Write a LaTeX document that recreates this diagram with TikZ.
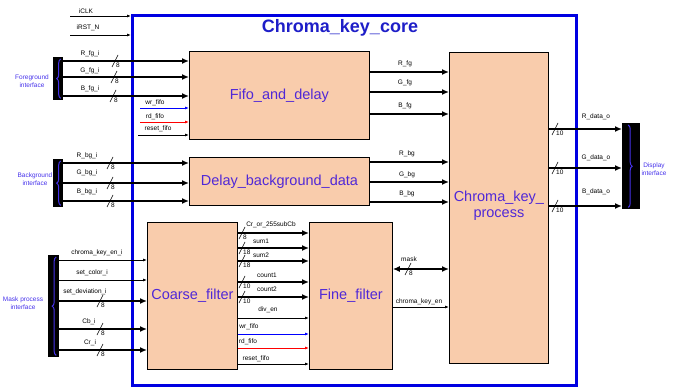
\documentclass[tikz,border=0pt]{standalone}
\usepackage{fontspec}
\setmainfont{Liberation Sans}
\usepackage{tikz}
\usetikzlibrary{arrows.meta,positioning,decorations.pathreplacing}
\definecolor{boxfill}{RGB}{249,204,172}
\definecolor{coreblue}{RGB}{0,0,225}
\definecolor{titleblue}{RGB}{30,30,200}
\definecolor{txtblue}{RGB}{80,40,215}
\definecolor{ifblue}{RGB}{70,50,235}

\begin{document}
\begin{tikzpicture}[
  x=1pt, y=-1pt,
  block/.style={rectangle, draw, fill=boxfill, line width=0.8pt, anchor=north west, align=center, text=txtblue, font=\fontsize{14.5}{16}\selectfont, inner sep=0pt},
  ifbar/.style={rectangle, fill=black, anchor=north west, inner sep=0pt},
  brc/.style={decorate, decoration={brace, amplitude=4pt}, ifblue, line width=1pt},
  iflbl/.style={text=ifblue, font=\fontsize{6.5}{7.5}\selectfont, align=center, inner sep=0pt},
  sig/.style={font=\fontsize{6.5}{7}\selectfont, inner sep=0pt},
  wire/.style={-{Latex[length=4pt,width=3pt]}, line width=0.8pt},
  bus/.style={-{Latex[length=7pt,width=6pt]}, line width=2pt},
  dbus/.style={{Latex[length=7pt,width=6pt]}-{Latex[length=7pt,width=6pt]}, line width=2.5pt},
  tick/.style={line width=0.6pt}
]
\useasboundingbox (0,0) rectangle (676,387);
% Core frame
\node[draw=coreblue, line width=3pt, minimum width=444pt, minimum height=370pt, anchor=north west, inner sep=0pt] (core) at (131,14) {};
\node[font=\bfseries\fontsize{18}{20}\selectfont, text=titleblue] (title) at (340,28) {Chroma\_key\_core};

% Blocks
\node[block, minimum width=180pt, minimum height=88pt] (fifo) at (189,51) {Fifo\_and\_delay};
\node[block, minimum width=180pt, minimum height=48pt] (delay) at (189,157) {Delay\_background\_data};
\node[block, minimum width=90pt, minimum height=147pt] (coarse) at (147,222) {Coarse\_filter};
\node[block, minimum width=83pt, minimum height=147pt] (fine) at (309,222) {Fine\_filter};
\node[block, minimum width=99pt, minimum height=311pt, text depth=8pt] (chroma) at (449,52) {Chroma\_key\_\\process};

% Interface bars
\node[ifbar, minimum width=10pt, minimum height=43pt] (fgbar) at (53,57) {};
\node[ifbar, minimum width=10pt, minimum height=48pt] (bgbar) at (53,159) {};
\node[ifbar, minimum width=11pt, minimum height=102pt] (mkbar) at (48,255) {};
\node[ifbar, minimum width=18pt, minimum height=86pt] (dpbar) at (622,123) {};
\draw[brc] ([xshift=2.5pt,yshift=2pt]fgbar.south) -- ([xshift=2.5pt,yshift=-2pt]fgbar.north);
\draw[brc] ([xshift=2.5pt,yshift=2pt]bgbar.south) -- ([xshift=2.5pt,yshift=-2pt]bgbar.north);
\draw[brc] ([xshift=2.5pt,yshift=2pt]mkbar.south) -- ([xshift=2.5pt,yshift=-2pt]mkbar.north);
\draw[brc] ([xshift=-3pt,yshift=-2pt]dpbar.north) -- ([xshift=-3pt,yshift=2pt]dpbar.south);
\node[iflbl] (fglbl) at (32,81) {Foreground\\interface};
\node[iflbl] (bglbl) at (35,179) {Background\\interface};
\node[iflbl] (mklbl) at (23,303) {Mask process\\interface};
\node[iflbl] (dplbl) at (654,169) {Display\\interface};

% Clock and reset
\coordinate (clk) at (70,16);
\coordinate (rst) at (70,35);
\draw[wire] (clk) -- (clk -| core.west);
\draw[wire] (rst) -- (rst -| core.west);
\node[sig] (clklbl) at (86,11) {iCLK};
\node[sig] (rstlbl) at (88,28) {iRST\_N};

% Foreground inputs
\draw[bus] (fgbar.east |- 0,61) -- (fifo.west |- 0,61);
\draw[bus] (fgbar.east |- 0,77) -- (fifo.west |- 0,77);
\draw[bus] (fgbar.east |- 0,96) -- (fifo.west |- 0,96);
\node[sig] (rfgi) at (90,54) {R\_fg\_i};
\node[sig] (gfgi) at (90,71) {G\_fg\_i};
\node[sig] (bfgi) at (90,89) {B\_fg\_i};
% Fifo controls
\coordinate (wr1) at (140,108);
\coordinate (rd1) at (140,122);
\coordinate (rs1) at (138,135);
\draw[wire, blue] (wr1) -- (wr1 -| fifo.west);
\draw[wire, red] (rd1) -- (rd1 -| fifo.west);
\draw[wire] (rs1) -- (rs1 -| fifo.west);
\node[sig] (wrlbl1) at (155,103) {wr\_fifo};
\node[sig] (rdlbl1) at (155,117) {rd\_fifo};
\node[sig] (rslbl1) at (158,129) {reset\_fifo};

% Background inputs
\draw[bus] (bgbar.east |- 0,163) -- (delay.west |- 0,163);
\draw[bus] (bgbar.east |- 0,183) -- (delay.west |- 0,183);
\draw[bus] (bgbar.east |- 0,201) -- (delay.west |- 0,201);
\node[sig] (rbgi) at (87,156) {R\_bg\_i};
\node[sig] (gbgi) at (87,173) {G\_bg\_i};
\node[sig] (bbgi) at (87,192) {B\_bg\_i};

% Mask process inputs
\draw[wire] (mkbar.east |- 0,260) -- (coarse.west |- 0,260);
\draw[wire] (mkbar.east |- 0,280) -- (coarse.west |- 0,280);
\draw[bus] (mkbar.east |- 0,301) -- (coarse.west |- 0,301);
\draw[bus] (mkbar.east |- 0,329) -- (coarse.west |- 0,329);
\draw[bus] (mkbar.east |- 0,350) -- (coarse.west |- 0,350);
\node[sig] (keyeni) at (97,253) {chroma\_key\_en\_i};
\node[sig] (colori) at (92,273) {set\_color\_i};
\node[sig] (devi) at (85,292) {set\_deviation\_i};
\node[sig] (cbi) at (89,322) {Cb\_i};
\node[sig] (cri) at (90,343) {Cr\_i};

% Coarse to fine
\draw[bus] (coarse.east |- 0,233) -- (fine.west |- 0,233);
\draw[bus] (coarse.east |- 0,248) -- (fine.west |- 0,248);
\draw[bus] (coarse.east |- 0,261) -- (fine.west |- 0,261);
\draw[bus] (coarse.east |- 0,282) -- (fine.west |- 0,282);
\draw[bus] (coarse.east |- 0,297) -- (fine.west |- 0,297);
\draw[wire] (coarse.east |- 0,318) -- (fine.west |- 0,318);
\draw[wire, blue] (coarse.east |- 0,334) -- (fine.west |- 0,334);
\draw[wire, red] (coarse.east |- 0,348) -- (fine.west |- 0,348);
\draw[wire] (coarse.east |- 0,364) -- (fine.west |- 0,364);
\node[sig] (crcb) at (271,225) {Cr\_or\_255subCb};
\node[sig] (sum1) at (261,241) {sum1};
\node[sig] (sum2) at (261,255) {sum2};
\node[sig] (cnt1) at (267,275) {count1};
\node[sig] (cnt2) at (267,289) {count2};
\node[sig] (diven) at (268,310) {div\_en};
\node[sig] (wrlbl2) at (249,327) {wr\_fifo};
\node[sig] (rdlbl2) at (248,342) {rd\_fifo};
\node[sig] (rslbl2) at (256,359) {reset\_fifo};

% Into chroma_key_process
\draw[bus] (fifo.east |- 0,72) -- (chroma.west |- 0,72);
\draw[bus] (fifo.east |- 0,92) -- (chroma.west |- 0,92);
\draw[bus] (fifo.east |- 0,114) -- (chroma.west |- 0,114);
\draw[bus] (delay.east |- 0,162) -- (chroma.west |- 0,162);
\draw[bus] (delay.east |- 0,182) -- (chroma.west |- 0,182);
\draw[bus] (delay.east |- 0,202) -- (chroma.west |- 0,202);
\draw[dbus] (fine.east |- 0,269) -- (chroma.west |- 0,269);
\draw[wire] (fine.east |- 0,307) -- (chroma.west |- 0,307);
\node[sig] (rfg) at (405,64) {R\_fg};
\node[sig] (gfg) at (405,83) {G\_fg};
\node[sig] (bfg) at (405,106) {B\_fg};
\node[sig] (rbg) at (407,154) {R\_bg};
\node[sig] (gbg) at (407,175) {G\_bg};
\node[sig] (bbg) at (407,194) {B\_bg};
\node[sig] (masklbl) at (409,259) {mask};
\node[sig] (keyen) at (419,302) {chroma\_key\_en};

% Outputs
\draw[bus] (chroma.east |- 0,129) -- (dpbar.west |- 0,129);
\draw[bus] (chroma.east |- 0,168) -- (dpbar.west |- 0,168);
\draw[bus] (chroma.east |- 0,206) -- (dpbar.west |- 0,206);
\node[sig] (rout) at (596,117) {R\_data\_o};
\node[sig] (gout) at (596,158) {G\_data\_o};
\node[sig] (bout) at (596,192) {B\_data\_o};

% Bus widths
\foreach \x/\y/\n [count=\i] in {115/61/8, 114/77/8, 113/96/8, 110/163/8, 110/183/8, 110/201/8,
    100/301/8, 100/329/8, 100/350/8, 242/233/8, 242/248/18, 242/261/18, 242/282/10, 242/297/10,
    408/269/8, 555/129/10, 555/168/10, 555/206/10}
  {\draw[tick] (\x-3,\y+6) -- (\x+3,\y-6);
   \node[sig, anchor=north west] (bw\i) at (\x+1,\y+2) {\n};}
\end{tikzpicture}
\end{document}
